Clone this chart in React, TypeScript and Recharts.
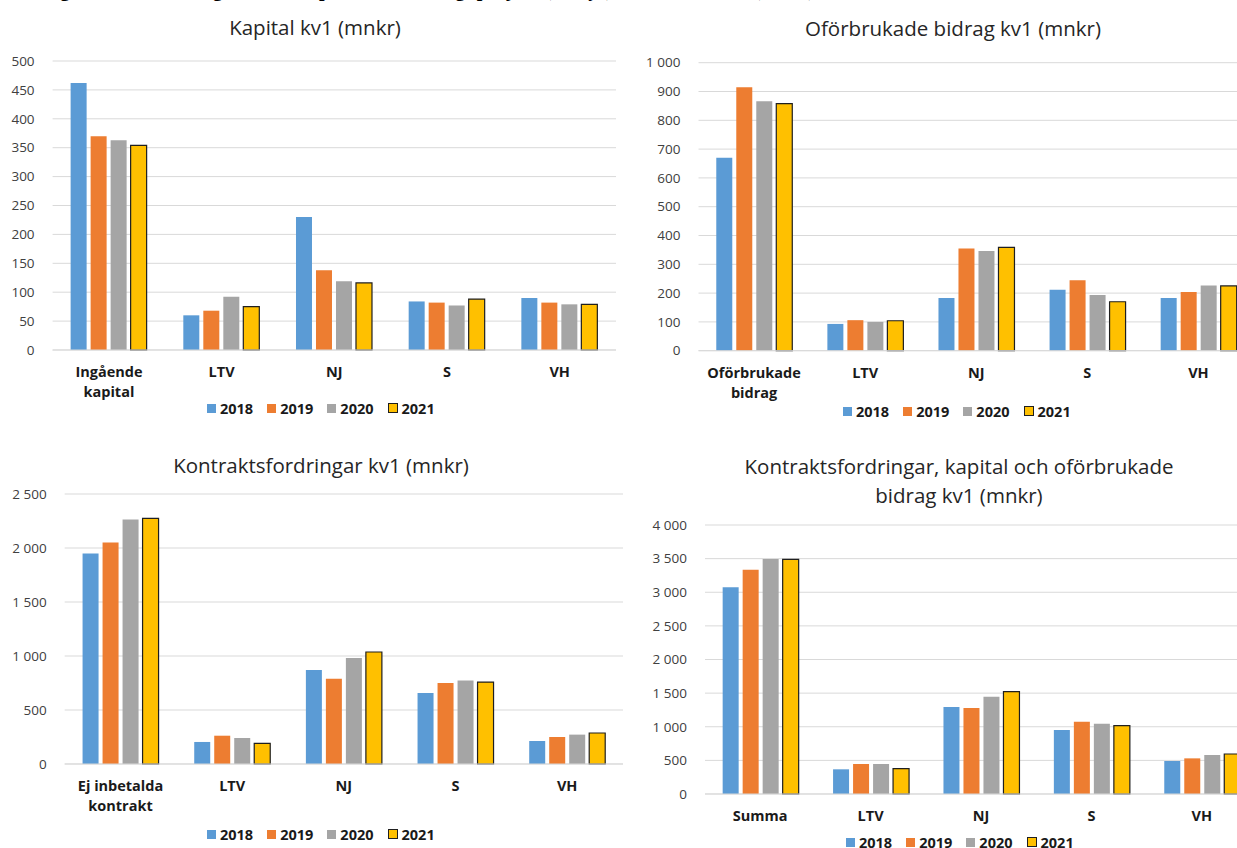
import React from 'react'
import { BarChart, Bar, XAxis, YAxis, CartesianGrid } from 'recharts'

// categories
const kapitalCats = ['Ingående\nkapital', 'LTV', 'NJ', 'S', 'VH']
const bidragCats = ['Oförbrukade\nbidrag', 'LTV', 'NJ', 'S', 'VH']
const kontraktCats = ['Ej inbetalda\nkontrakt', 'LTV', 'NJ', 'S', 'VH']
const summaCats = ['Summa', 'LTV', 'NJ', 'S', 'VH']

const years = ['2018', '2019', '2020', '2021']

// Kapital kv1 (mnkr)
const kapital2018 = [462, 60, 230, 84, 90]
const kapital2019 = [370, 68, 138, 82, 82]
const kapital2020 = [363, 92, 119, 77, 79]
const kapital2021 = [354, 75, 116, 88, 79]

// Oförbrukade bidrag kv1 (mnkr)
const bidrag2018 = [670, 93, 183, 212, 183]
const bidrag2019 = [915, 106, 355, 245, 204]
const bidrag2020 = [866, 100, 346, 193, 226]
const bidrag2021 = [858, 104, 359, 170, 225]

// Kontraktsfordringar kv1 (mnkr)
const kontrakt2018 = [1948, 204, 870, 657, 213]
const kontrakt2019 = [2052, 262, 790, 750, 250]
const kontrakt2020 = [2265, 241, 981, 772, 272]
const kontrakt2021 = [2275, 191, 1037, 759, 287]

// Summa kv1 (mnkr)
const summa2018 = [3073, 367, 1294, 952, 491]
const summa2019 = [3336, 446, 1279, 1076, 530]
const summa2020 = [3494, 446, 1447, 1046, 580]
const summa2021 = [3489, 377, 1522, 1016, 595]

// y ticks
const kapitalTicks = [0, 50, 100, 150, 200, 250, 300, 350, 400, 450, 500]
const bidragTicks = [0, 100, 200, 300, 400, 500, 600, 700, 800, 900, 1000]
const kontraktTicks = [0, 500, 1000, 1500, 2000, 2500]
const summaTicks = [0, 500, 1000, 1500, 2000, 2500, 3000, 3500, 4000]

const COLORS = ['#5B9BD5', '#ED7D31', '#A5A5A5', '#FFC000']

const buildRows = (cats: string[], series: number[][]) =>
  cats.map((name, i) => {
    const row: any = { name }
    years.forEach((y, j) => {
      row[y] = series[j][i]
    })
    return row
  })

const fmt = (v: number) => String(v).replace(/\B(?=(\d{3})+(?!\d))/g, '\u00a0')

const CategoryTick = ({ x, y, payload }: any) => {
  const lines = String(payload.value).split('\n')
  return (
    <text x={x} y={y} textAnchor="middle" fill="#1a1a1a" fontSize={14.5} fontWeight={700} fontFamily='"Open Sans"'>
      {lines.map((l, i) => (
        <tspan key={i} x={x} dy={i === 0 ? 27 : 20}>{l}</tspan>
      ))}
    </text>
  )
}

const Legend = ({ left, top }: { left: number; top: number }) => (
  <div style={{ position: 'absolute', left, top: top - 10, height: 20, display: 'flex', alignItems: 'center', fontFamily: '"Open Sans"', fontWeight: 700, fontSize: 14.5, color: '#1a1a1a', whiteSpace: 'nowrap' }}>
    {years.map((y, i) => (
      <div key={y} style={{ display: 'flex', alignItems: 'center', marginRight: 14 }}>
        <span style={{ display: 'inline-block', width: i === 3 ? 8 : 9, height: i === 3 ? 8 : 9, background: COLORS[i], border: i === 3 ? '1px solid #1f1f1f' : 'none', marginRight: 4 }} />
        <span>{y}</span>
      </div>
    ))}
  </div>
)

interface PanelProps {
  title: string[]
  titleX: number
  titleY: number
  cats: string[]
  series: number[][]
  ticks: number[]
  left: number
  top: number
  width: number
  height: number
  L: number
  R: number
  T: number
  B: number
  legendX: number
  legendY: number
}

function Panel(p: PanelProps) {
  const data = buildRows(p.cats, p.series)
  const max = p.ticks[p.ticks.length - 1]
  return (
    <>
      <div style={{ position: 'absolute', left: p.titleX - 300, top: p.titleY - 14.5, width: 600, textAlign: 'center', fontFamily: '"Open Sans"', fontSize: 20.5, lineHeight: '29px', color: '#262626' }}>
        {p.title.map((t, i) => (
          <div key={i}>{t}</div>
        ))}
      </div>
      <div style={{ position: 'absolute', left: p.left, top: p.top }}>
        <BarChart
          width={p.width}
          height={p.height}
          data={data}
          margin={{ top: p.T - p.top, right: p.left + p.width - p.R, bottom: 0, left: 0 }}
          barCategoryGap="16%"
          barGap={4}
        >
          <CartesianGrid vertical={false} stroke="#D9D9D9" />
          <XAxis
            dataKey="name"
            interval={0}
            height={p.top + p.height - p.B}
            tickLine={false}
            tickSize={0}
            tickMargin={0}
            axisLine={{ stroke: '#D9D9D9' }}
            tick={<CategoryTick />}
          />
          <YAxis
            width={p.L - p.left}
            domain={[0, max]}
            ticks={p.ticks}
            interval={0}
            axisLine={false}
            tickLine={false}
            tickSize={0}
            tickMargin={18}
            tickFormatter={fmt}
            tick={{ fontSize: 13.5, fill: '#404040', fontFamily: '"Open Sans"' }}
          />
          {years.map((y, i) => (
            <Bar
              key={y}
              dataKey={y}
              fill={COLORS[i]}
              stroke={i === 3 ? '#1f1f1f' : 'none'}
              strokeWidth={i === 3 ? 1.2 : 0}
              isAnimationActive={false}
            />
          ))}
        </BarChart>
      </div>
      <Legend left={p.legendX} top={p.legendY} />
    </>
  )
}

export default function App() {
  return (
    <div style={{ position: 'relative', width: 1237, height: 848, overflow: 'hidden', background: '#fff' }}>
      <style>{'body{margin:0}'}</style>
      <div style={{ position: 'absolute', left: 30, top: -21, fontFamily: '"Liberation Serif"', fontWeight: 700, fontSize: 20, lineHeight: '20px', whiteSpace: 'nowrap', color: '#000' }}>
        Diagram 4. Utveckling som andel per fakultet enligt projekt (analys), kv1 2018–2021 (mnkr)
      </div>
      <Panel
        title={['Kapital kv1 (mnkr)']}
        titleX={315}
        titleY={27}
        cats={kapitalCats}
        series={[kapital2018, kapital2019, kapital2020, kapital2021]}
        ticks={kapitalTicks}
        left={0}
        top={40}
        width={618}
        height={390}
        L={52.6}
        R={616}
        T={61}
        B={350}
        legendX={207}
        legendY={408}
      />
      <Panel
        title={['Oförbrukade bidrag kv1 (mnkr)']}
        titleX={953}
        titleY={28}
        cats={bidragCats}
        series={[bidrag2018, bidrag2019, bidrag2020, bidrag2021]}
        ticks={bidragTicks}
        left={620}
        top={40}
        width={640}
        height={390}
        L={698.5}
        R={1254}
        T={62.7}
        B={350.7}
        legendX={843}
        legendY={411}
      />
      <Panel
        title={['Kontraktsfordringar kv1 (mnkr)']}
        titleX={321}
        titleY={465}
        cats={kontraktCats}
        series={[kontrakt2018, kontrakt2019, kontrakt2020, kontrakt2021]}
        ticks={kontraktTicks}
        left={0}
        top={480}
        width={625}
        height={368}
        L={64.7}
        R={623}
        T={494}
        B={764}
        legendX={207}
        legendY={834}
      />
      <Panel
        title={['Kontraktsfordringar, kapital och oförbrukade', 'bidrag kv1 (mnkr)']}
        titleX={959}
        titleY={466}
        cats={summaCats}
        series={[summa2018, summa2019, summa2020, summa2021]}
        ticks={summaTicks}
        left={628}
        top={500}
        width={632}
        height={348}
        L={705}
        R={1257}
        T={525}
        B={794}
        legendX={846}
        legendY={842}
      />
    </div>
  )
}
